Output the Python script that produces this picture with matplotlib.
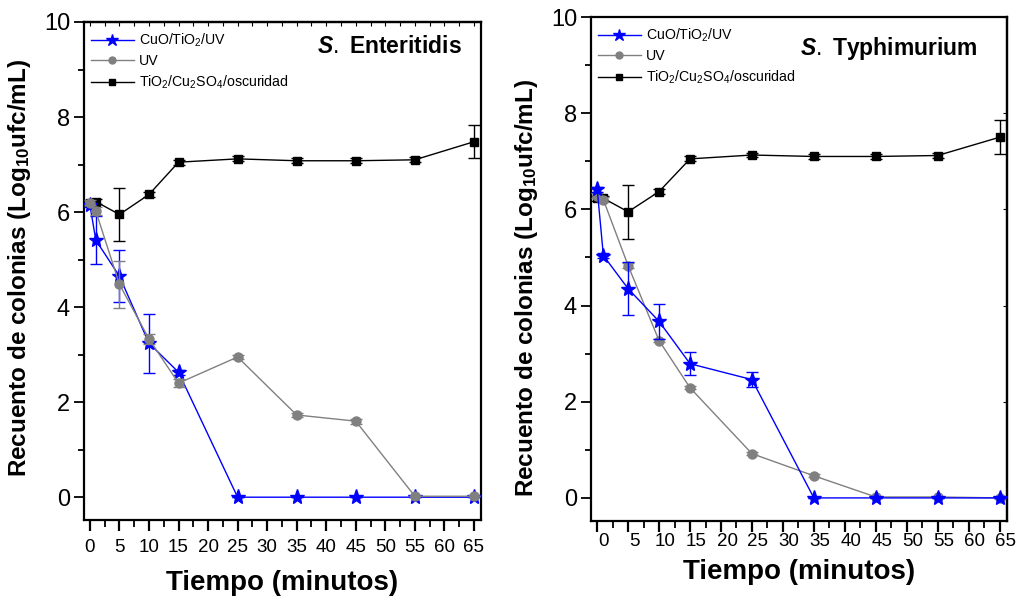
import matplotlib
matplotlib.use("Agg")
import matplotlib.pyplot as plt
from matplotlib.ticker import MultipleLocator
from matplotlib.lines import Line2D
from matplotlib.transforms import ScaledTranslation

plt.rcParams['font.family'] = ['Liberation Sans', 'DejaVu Sans']
plt.rcParams['mathtext.fontset'] = 'custom'
plt.rcParams['mathtext.rm'] = 'Liberation Sans'
plt.rcParams['mathtext.it'] = 'Liberation Sans:bold:italic'
plt.rcParams['mathtext.bf'] = 'Liberation Sans:bold'
plt.rcParams['mathtext.default'] = 'regular'

# ---------------- data ----------------
t = [0, 1, 5, 10, 15, 25, 35, 45, 55, 65]
x_ticks = [0, 5, 10, 15, 20, 25, 30, 35, 40, 45, 50, 55, 60, 65]
labels = ["CuO/TiO$_2$/UV", "UV", "TiO$_2$/Cu$_2$SO$_4$/oscuridad"]
titles = ["Enteritidis", "Typhimurium"]

# S. Enteritidis
cuo_e = [6.15, 5.41, 4.65, 3.24, 2.63, 0, 0, 0, 0, 0]
cuo_e_err = [0.05, 0.5, 0.55, 0.62, 0.05, 0, 0, 0, 0, 0]
uv_e = [6.2, 6.02, 4.48, 3.33, 2.40, 2.95, 1.73, 1.60, 0.02, 0.02]
uv_e_err = [0.05, 0.08, 0.5, 0.1, 0.08, 0.05, 0.05, 0.05, 0, 0]
dark_e = [6.2, 6.22, 5.95, 6.37, 7.05, 7.12, 7.08, 7.08, 7.10, 7.48]
dark_e_err = [0.05, 0.05, 0.55, 0.05, 0.05, 0.05, 0.05, 0.05, 0.05, 0.35]

# S. Typhimurium
cuo_t = [6.42, 5.04, 4.35, 3.67, 2.79, 2.46, 0, 0, 0, 0]
cuo_t_err = [0.05, 0.05, 0.55, 0.36, 0.24, 0.16, 0, 0, 0, 0]
uv_t = [6.28, 6.2, 4.83, 3.27, 2.29, 0.92, 0.46, 0.02, 0.02, 0.0]
uv_t_err = [0.05, 0.05, 0.05, 0.03, 0.03, 0.03, 0.03, 0, 0, 0]
dark_t = [6.23, 6.23, 5.95, 6.37, 7.05, 7.13, 7.10, 7.10, 7.12, 7.50]
dark_t_err = [0.05, 0.05, 0.56, 0.05, 0.05, 0.05, 0.05, 0.05, 0.05, 0.35]

BLUE, GRAY, BLACK = '#0000ff', '#808080', '#000000'

panels = [
    dict(cuo=cuo_e, cuo_err=cuo_e_err, uv=uv_e, uv_err=uv_e_err,
         dark=dark_e, dark_err=dark_e_err, title=titles[0],
         pos=[84/1022, 1-520/600, 397/1022, 498/600], uv_top=True,
         ylab=(-0.128, 0.506), xlab_y=-0.100, title_xy=(0.952, 0.95),
         xtl_shift=0, xpad=6, top_ticks=True),
    dict(cuo=cuo_t, cuo_err=cuo_t_err, uv=uv_t, uv_err=uv_t_err,
         dark=dark_t, dark_err=dark_t_err, title=titles[1],
         pos=[591/1022, 1-521/600, 416/1022, 504/600], uv_top=False,
         ylab=(-0.123, 0.462), xlab_y=-0.076, title_xy=(0.930, 0.938),
         xtl_shift=6, xpad=0.5, top_ticks=False),
]

fig = plt.figure(figsize=(10.22, 6.0), dpi=100)

for p in panels:
    ax = fig.add_axes(p['pos'])
    ekw = dict(capsize=4, elinewidth=1, capthick=1, lw=1)
    ax.errorbar(t, p['dark'], yerr=p['dark_err'], color=BLACK, marker='s',
                ms=6, zorder=3, **ekw)
    zc, zu = (4, 5) if p['uv_top'] else (5, 4)
    ax.errorbar(t, p['cuo'], yerr=p['cuo_err'], color=BLUE, marker='*',
                ms=11, zorder=zc, **ekw)
    ax.errorbar(t, p['uv'], yerr=p['uv_err'], color=GRAY, marker='o',
                ms=6.5, zorder=zu, **ekw)

    ax.set_xlim(-1, 66.2)
    ax.set_ylim(-0.48, 10)
    ax.set_xticks(x_ticks)
    ax.xaxis.set_minor_locator(MultipleLocator(2.5))
    ax.yaxis.set_major_locator(MultipleLocator(2))
    ax.yaxis.set_minor_locator(MultipleLocator(1))
    ax.tick_params(axis='x', which='major', direction='out', length=8, width=1.6,
                   labelsize=13.5, pad=p['xpad'])
    ax.tick_params(axis='x', which='minor', direction='out', length=5, width=1.3)
    ax.tick_params(axis='y', which='major', direction='out', length=7, width=1.3,
                   labelsize=17, pad=3)
    ax.tick_params(axis='y', which='minor', direction='out', length=4, width=1.3)
    for spine in ax.spines.values():
        spine.set_linewidth(1.6)

    if p['xtl_shift']:
        off = ScaledTranslation(p['xtl_shift'] / 100, 0, fig.dpi_scale_trans)
        for lab in ax.get_xticklabels():
            lab.set_transform(lab.get_transform() + off)

    if p['top_ticks']:
        sec = ax.secondary_xaxis('top')
        sec.set_xticks(x_ticks)
        sec.xaxis.set_minor_locator(MultipleLocator(2.5))
        sec.tick_params(which='both', direction='in', length=3, width=0.8,
                        labeltop=False)
        sec.spines['top'].set_linewidth(1.6)
    else:
        sec = ax.secondary_yaxis('right')
        sec.yaxis.set_major_locator(MultipleLocator(2))
        sec.tick_params(which='both', direction='in', length=3, width=0.8,
                        labelright=False)
        sec.spines['right'].set_linewidth(1.6)

    ax.set_xlabel("Tiempo (minutos)", fontsize=20, fontweight='bold')
    ax.xaxis.set_label_coords(0.5, p['xlab_y'])
    ax.set_ylabel("Recuento de colonias (Log$_{10}$ufc/mL)", fontsize=17.5,
                  fontweight='bold')
    ax.yaxis.set_label_coords(*p['ylab'])

    ax.text(p['title_xy'][0], p['title_xy'][1], "$\\mathit{S.}$ " + p['title'],
            transform=ax.transAxes, ha='right', va='center', fontsize=16.5,
            fontweight='bold')

    handles = [Line2D([], [], color=BLUE, marker='*', ms=9, lw=1),
               Line2D([], [], color=GRAY, marker='o', ms=5, lw=1),
               Line2D([], [], color=BLACK, marker='s', ms=5, lw=1)]
    ax.legend(handles, labels, loc='upper left', bbox_to_anchor=(0.0, 0.995),
              frameon=False, fontsize=10.2, handlelength=3.0, handletextpad=0.35,
              labelspacing=0.38, borderaxespad=0.2, borderpad=0.3)

fig.savefig("out.png", dpi=100)
